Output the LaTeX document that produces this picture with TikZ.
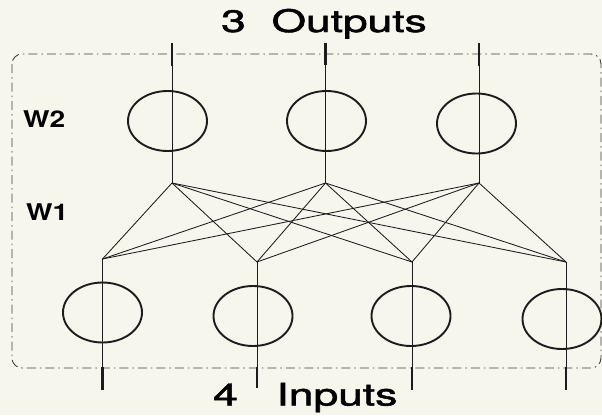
\documentclass[tikz,border=0pt]{standalone}
\usepackage{fontspec}
\setmainfont{TeX Gyre Heros}
\newfontfamily\titlefont[FakeBold=1.4]{TeX Gyre Heros}
\usetikzlibrary{shapes.geometric}
\definecolor{paper}{RGB}{247,246,236}
\definecolor{ink}{RGB}{28,28,28}
\tikzset{
  neuron/.style={ellipse, draw=ink, line width=1.9pt, minimum width=79pt, minimum height=60pt, inner sep=0pt},
  wire/.style={draw=ink, line width=0.8pt},
  link/.style={draw=ink, line width=0.85pt},
  tick/.style={draw=ink, line width=2.8pt},
  frame/.style={draw=ink!85, line width=0.9pt, rounded corners=10pt, dash pattern=on 9pt off 4pt on 1.5pt off 4pt},
  title/.style={inner sep=0pt, anchor=base west, font=\titlefont\fontsize{31pt}{31pt}\selectfont},
  wlabel/.style={inner sep=0pt, anchor=base west, font=\fontsize{23pt}{23pt}\selectfont\bfseries}
}
\begin{document}
\begin{tikzpicture}[x=1pt,y=-1pt]
\fill[paper] (0,0) rectangle (602,415);
\useasboundingbox (0,0) rectangle (602,415);
% frame
\draw[frame] (12,54) rectangle (601,368);
% output columns
\coordinate (o1) at (172,183);
\coordinate (o2) at (325.5,183);
\coordinate (o3) at (479,183);
\coordinate (ob1) at (172,66);
\coordinate (ob2) at (325.5,65);
\coordinate (ob3) at (479,66);
\coordinate (ot1) at (172,43);
\coordinate (ot2) at (325.5,43);
\coordinate (ot3) at (479,43);
% input columns
\coordinate (i1) at (102.5,259);
\coordinate (i2) at (257,262);
\coordinate (i3) at (412,262);
\coordinate (i4) at (566,262);
\coordinate (ib1) at (102.5,367);
\coordinate (ib2) at (257,367);
\coordinate (ib3) at (412,367);
\coordinate (ib4) at (566,367);
\coordinate (ie1) at (102.5,390);
\coordinate (ie2) at (257,388);
\coordinate (ie3) at (412,390);
\coordinate (ie4) at (566,390);
% weight links
\foreach \o in {1,2,3}{
  \foreach \i in {1,2,3,4}{
    \draw[link] (o\o) -- (i\i);
  }
}
% vertical wires and ticks
\foreach \k in {1,2,3}{
  \draw[wire] (o\k) -- (ob\k);
  \draw[tick] (ob\k) -- (ot\k);
}
\foreach \k in {1,2,3,4}{
  \draw[wire] (i\k) -- (ib\k);
  \draw[tick] (ib\k) -- (ie\k);
}
% neurons
\node[neuron] (n1) at (167.5,121) {};
\node[neuron] (n2) at (326.5,121) {};
\node[neuron] (n3) at (476.5,123.5) {};
\node[neuron] (m1) at (102.5,312.5) {};
\node[neuron] (m2) at (253,316) {};
\node[neuron] (m3) at (411,316) {};
\node[neuron] (m4) at (562,319) {};
% labels
\node[title] (tout) at (221,32) {\scalebox{1.43}[1]{3\hspace{18pt}Outputs}};
\node[title] (tin) at (213,405.5) {\scalebox{1.43}[1]{4\hspace{27pt}Inputs}};
\node[wlabel] (w2) at (23,127) {\scalebox{1.22}[1]{W2}};
\node[wlabel] (w1) at (26,220) {\scalebox{1.22}[1]{W1}};
\end{tikzpicture}
\end{document}
